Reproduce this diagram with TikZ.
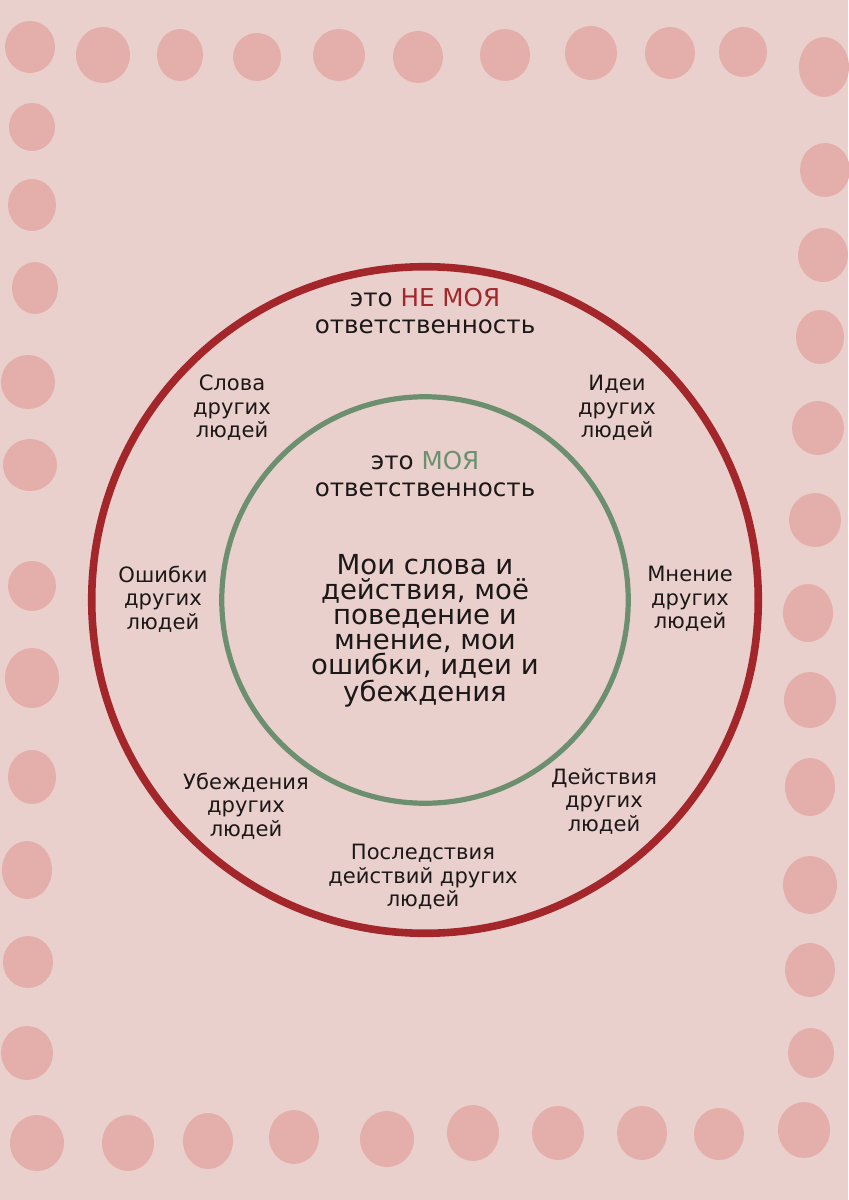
\documentclass[tikz,border=0pt]{standalone}
\usepackage{fontspec}
\setmainfont{DejaVu Sans}
\usepackage{tikz}
\usetikzlibrary{positioning}
\usepackage{xcolor}
\definecolor{paper}{RGB}{234,208,204}
\definecolor{blush}{RGB}{228,175,171}
\definecolor{wine}{RGB}{163,38,43}
\definecolor{sage}{RGB}{108,143,112}
\definecolor{ink}{RGB}{28,24,24}

\begin{document}
\begin{tikzpicture}[
  x=0.025cm, y=-0.025cm,
  dot/.style={fill=blush},
  notmine/.style={draw=wine, line width=5.4pt},
  mine/.style={draw=sage, line width=3.7pt},
  headtxt/.style={text=ink, align=center, inner sep=0pt, font=\fontsize{17.5}{19.2}\selectfont},
  coretxt/.style={text=ink, align=center, inner sep=0pt, font=\fontsize{19.6}{17.8}\selectfont},
  others/.style={text=ink, align=center, inner sep=0pt, font=\fontsize{15}{16.7}\selectfont}
]
\useasboundingbox (0,0) rectangle (848,1200);
\fill[paper] (0,0) rectangle (848,1200);

\foreach \px/\py/\rx/\ry in {
  30/47/25/26, 103/55/27/28, 180/55/23/26, 257/57/24/24, 339/55/26/26,
  418/57/25/26, 505/55/25/26, 591/53/26/27, 670/53/25/26, 743/52/24/25, 824/67/25/30,
  32/127/23/24, 32/205/24/26, 35/288/23/26, 28/382/27/27, 30/465/27/26, 32/586/24/25,
  32/678/27/30, 32/777/24/27, 27/870/25/29, 28/962/25/26, 27/1053/26/27,
  825/170/25/27, 823/255/25/27, 820/337/24/27, 818/428/26/27, 815/520/26/27,
  808/613/25/29, 810/700/26/28, 810/787/25/29, 810/885/27/29, 810/970/25/27, 811/1053/23/25,
  37/1143/27/28, 128/1143/26/28, 208/1141/25/28, 294/1137/25/27, 387/1139/27/28,
  473/1133/26/28, 558/1133/26/27, 642/1133/25/27, 719/1134/25/26, 804/1130/26/28}
  \fill[dot] (\px,\py) ellipse[x radius=\rx*0.025cm, y radius=\ry*0.025cm];

\draw[notmine] (425,600) circle[radius=8.33cm];
\draw[mine] (425,600) circle[radius=5.08cm];

\node (notours) [headtxt] at (425,311) {это \textcolor{wine}{НЕ МОЯ}\\ответственность};
\node (ours) [headtxt] at (425,474) {это \textcolor{sage}{МОЯ}\\ответственность};
\node (core) [coretxt] at (425,631) {Мои слова и\\действия, моё\\поведение и\\мнение, мои\\ошибки, идеи и\\убеждения};

\node (words) [others] at (232,408) {Слова\\других\\людей};
\node (ideas) [others] at (617,408) {Идеи\\других\\людей};
\node (mistakes) [others] at (163,599) {Ошибки\\других\\людей};
\node (opinion) [others] at (690,599) {Мнение\\других\\людей};
\node (beliefs) [others] at (246,806) {Убеждения\\других\\людей};
\node (actions) [others] at (604,801) {Действия\\других\\людей};
\node (results) [others] at (423,877) {Последствия\\действий других\\людей};

\end{tikzpicture}
\end{document}
